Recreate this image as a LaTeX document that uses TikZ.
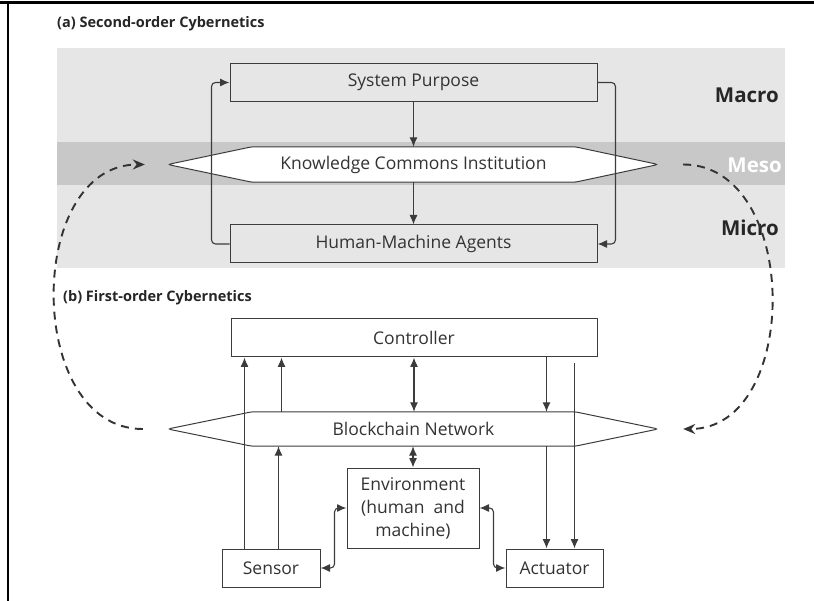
\documentclass[tikz,border=0pt]{standalone}
\usepackage{fontspec}
\setmainfont{Open Sans}
\usetikzlibrary{arrows.meta,positioning,calc,backgrounds}

\definecolor{linegray}{HTML}{3C3C3C}
\definecolor{textgray}{HTML}{333333}
\definecolor{bandgray}{HTML}{E6E6E6}
\definecolor{mesogray}{HTML}{C8C8C8}

\begin{document}
\begin{tikzpicture}[x=1pt, y=-1pt,
    box/.style={draw=linegray, line width=1pt, inner sep=0pt, minimum height=38pt, text=textgray, font=\fontsize{17.5}{23}\selectfont},
    band/.style={inner sep=0pt, minimum height=35pt, minimum width=323pt, text=textgray, font=\fontsize{17.5}{22}\selectfont},
    tipshape/.style={draw=linegray, line width=1pt, fill=white, rounded corners=3pt},
    wire/.style={draw=linegray, line width=1.1pt},
    feedback/.style={draw=black!80, line width=1.9pt, dash pattern=on 8pt off 6pt, -{Stealth[length=12pt,width=10pt]}},
    heading/.style={anchor=west, inner sep=0pt, font=\bfseries\fontsize{14.5}{17}\selectfont, text=black!85},
    level/.style={anchor=east, inner sep=0pt, font=\bfseries\fontsize{20.5}{24}\selectfont},
    >={Latex[length=9.5pt,width=8pt]}]
    \useasboundingbox (0,0) rectangle (814,601);

    % page frame
    \draw[line width=3pt] (0,2.5) -- (814,2.5);
    \draw[line width=2.5pt] (8,2.5) -- (8,601);

    % (a) second-order
    \node[heading] (titleA) at (57,24) {(a) Second-order Cybernetics};
    \node[box, minimum width=367pt] (purpose) at (413.5,82.5) {System Purpose};
    \node[band] (kci) at (413.5,164.5) {Knowledge Commons Institution};
    \node[box, minimum width=367pt] (agents) at (413.5,244) {Human-Machine Agents};
    \node[level, text=black!85] (macro) at (779,95) {Macro};
    \node[level, text=white] (meso) at (782,165) {Meso};
    \node[level, text=black!85] (micro) at (779,228) {Micro};

    % (b) first-order
    \node[heading] (titleB) at (63,298) {(b) First-order Cybernetics};
    \node[box, fill=white, minimum width=366pt] (ctrl) at (414,338) {Controller};
    \node[band, minimum height=34pt] (chain) at (413.5,429) {Blockchain Network};
    \node[box, fill=white, minimum width=132pt, minimum height=80pt, align=center] (env) at (413,508) {Environment\\(human~ and\\machine)};
    \node[box, fill=white, minimum width=98pt] (sensor) at (271,568) {Sensor};
    \node[box, fill=white, minimum width=97pt] (act) at (554.5,568) {Actuator};

    % tips of the two long shapes
    \coordinate (kciL) at ([xshift=-84pt]kci.west);
    \coordinate (kciR) at ([xshift=83pt]kci.east);
    \coordinate (chainL) at ([xshift=-84pt]chain.west);
    \coordinate (chainR) at ([xshift=83pt]chain.east);

    \begin{scope}[on background layer]
        \fill[bandgray] (57,48) rectangle (785,268);        % macro/micro band
        \fill[mesogray] (57,142) rectangle (785,185);       % meso band
        \draw[tipshape] (kci.north east) -- (kci.north west) -- (kciL) -- (kci.south west) -- (kci.south east) -- (kciR) -- cycle;
        \draw[tipshape] (chain.north east) -- (chain.north west) -- (chainL) -- (chain.south west) -- (chain.south east) -- (chainR) -- cycle;
    \end{scope}

    % second-order loop
    \draw[wire,->] (purpose) -- (kci);
    \draw[wire,->] (kci) -- (agents);
    \draw[wire,->,rounded corners=4pt] (agents.west) -- ++(-18,0) |- (purpose.west);     % micro back up to purpose
    \draw[wire,->,rounded corners=4pt] (purpose.east) -- ++(18,0) |- (agents.east);      % purpose down to agents

    % first-order loop
    \coordinate (gap) at ([xshift=-23pt,yshift=-6pt]ctrl.south east);                      % line starting under controller
    \draw[wire,->] ([xshift=23pt]sensor.north west) -- ([xshift=23pt]sensor.north west |- ctrl.south);
    \draw[wire,->] ([xshift=57pt]sensor.north west) -- ([xshift=57pt]sensor.north west |- chain.south);
    \draw[wire,->] ([xshift=51pt]ctrl.south west |- chain.north) -- ([xshift=51pt]ctrl.south west);
    \draw[wire,<->] (ctrl.south) -- (ctrl.south |- chain.north);
    \draw[wire,->] ([xshift=-51pt]ctrl.south east) -- ([xshift=-51pt]ctrl.south east |- chain.north);
    \draw[wire,->] (gap) -- (gap |- act.north);
    \draw[wire,->] ([xshift=41pt]act.north west |- chain.south) -- ([xshift=41pt]act.north west);
    \draw[wire,<->] (env.north |- chain.south) -- (env.north);
    \draw[wire,<->,rounded corners=4pt] (env.west) -- ++(-12,0) |- (sensor.east);
    \draw[wire,<->,rounded corners=4pt] (env.east) -- ++(14,0) |- (act.west);

    % between the two orders
    \draw[feedback] ([xshift=-25pt]chainL) .. controls +(-118,0) and +(-120,0) .. ([xshift=-23pt]kciL);
    \draw[feedback] ([xshift=25pt]kciR) .. controls +(118,0) and +(118,0) .. ([xshift=25pt]chainR);
\end{tikzpicture}
\end{document}
